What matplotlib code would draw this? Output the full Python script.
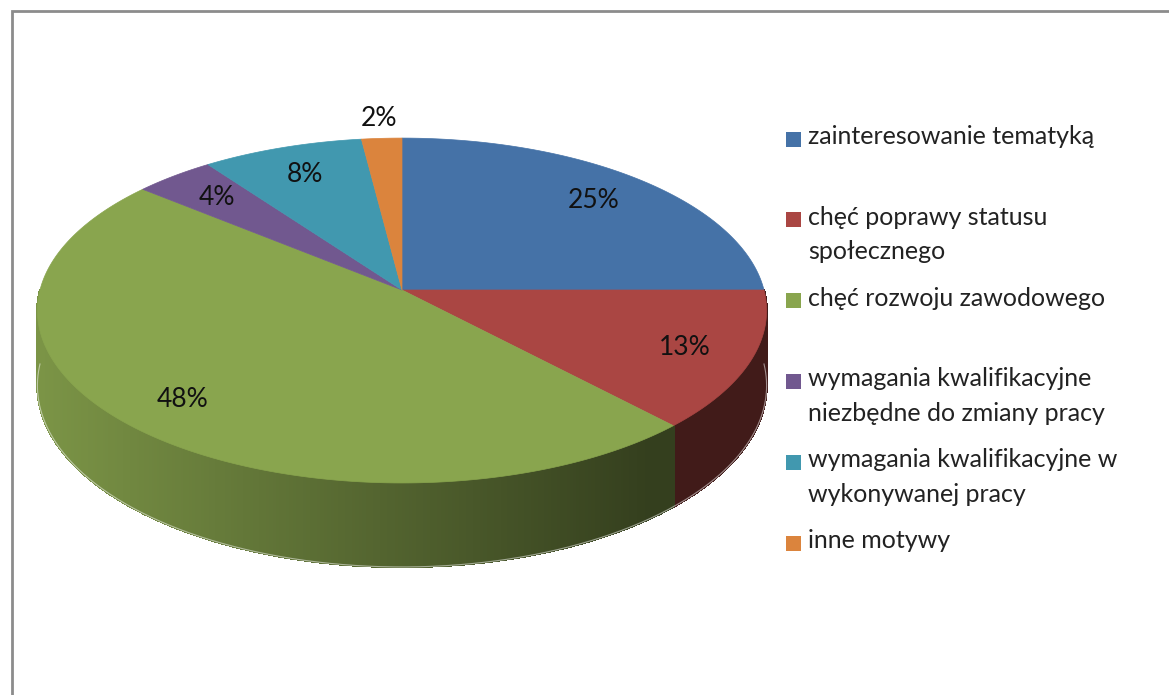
import numpy as np
import matplotlib
matplotlib.use("Agg")
import matplotlib.pyplot as plt
from matplotlib.collections import PolyCollection
from matplotlib.colors import to_rgb

# data
labels = ["zainteresowanie tematyką",
          "chęć poprawy statusu\nspołecznego",
          "chęć rozwoju zawodowego",
          "wymagania kwalifikacyjne\nniezbędne do zmiany pracy",
          "wymagania kwalifikacyjne w\nwykonywanej pracy",
          "inne motywy"]
values = [25, 13, 48, 4, 8, 2]
colors = ["#4572A7", "#AA4643", "#89A54E", "#71588F", "#4198AF", "#DB843D"]

plt.rcParams['font.family'] = ['Lato', 'DejaVu Sans']

W, H = 1169, 695
fig = plt.figure(figsize=(W / 100, H / 100), dpi=100)
ax = fig.add_axes([0, 0, 1, 1])
ax.set_xlim(0, W)
ax.set_ylim(H, 0)
ax.axis("off")

# frame (cut off on right / bottom like the screenshot)
ax.plot([12, 12, W + 5], [H + 5, 11, 11], color="#8c8c8c", lw=2, solid_joinstyle="miter")

# 3d pie geometry (pixel space)
cx, cy = 402, 290
R, Ry = 362, 170
persp = 0.119
depth = 74


def proj(t):
    u, v = np.sin(t), np.cos(t)
    s = 1.0 / (1.0 + persp * v)
    return cx + R * u * s, cy - Ry * v * s, s


def shade(x):
    # side gets darker from left to right
    return np.clip(0.9 - 0.00085 * (x - 37), 0.38, 1.0)


fracs = np.array(values) / np.sum(values)
bounds = np.concatenate([[0], np.cumsum(fracs)]) * 2 * np.pi

# sides (front half only)
polys, fcs = [], []
for i in range(len(values)):
    a0 = max(bounds[i], np.pi / 2)
    a1 = min(bounds[i + 1], 3 * np.pi / 2)
    if a1 <= a0:
        continue
    ts = np.linspace(a0, a1, int(np.degrees(a1 - a0) * 2) + 2)
    base = np.array(to_rgb(colors[i]))
    for ta, tb in zip(ts[:-1], ts[1:]):
        xa, ya, sa = proj(ta)
        xb, yb, sb = proj(tb)
        polys.append([(xa, ya), (xb, yb), (xb, yb + depth * sb), (xa, ya + depth * sa)])
        fcs.append(base * shade((xa + xb) / 2))
ax.add_collection(PolyCollection(polys, facecolors=fcs, edgecolors=fcs, linewidths=1.0,
                                 antialiased=False, zorder=1))
# soften the bottom edge
tb_ = np.linspace(np.pi / 2, 3 * np.pi / 2, 400)
xb_, yb_, sb_ = proj(tb_)
ax.plot(xb_, yb_ + depth * sb_, color="white", lw=0.8, zorder=1.5, alpha=0.5)

# tops
for i in range(len(values)):
    ts = np.linspace(bounds[i], bounds[i + 1], max(int(np.degrees(bounds[i + 1] - bounds[i]) * 2), 4))
    xs, ys, _ = proj(ts)
    pts = [(cx, cy)] + list(zip(xs, ys))
    ax.add_patch(plt.Polygon(pts, closed=True, facecolor=colors[i], edgecolor=colors[i],
                             lw=0.5, zorder=2))

# data labels
for i, v in enumerate(values):
    mid = (bounds[i] + bounds[i + 1]) / 2
    u, w = np.sin(mid), np.cos(mid)
    s = 1.0 / (1.0 + persp * w)
    f = 1.13 if fracs[i] < 0.03 else 0.81
    ax.text(cx + R * u * s * f, cy - Ry * w * s * f, f"{v}%", fontsize=19,
            ha="center", va="center", color="#111111", zorder=3)

# legend
for i, lab in enumerate(labels):
    y = 139 + i * 80.8
    ax.add_patch(plt.Rectangle((786, y - 7.5), 15, 15, facecolor=colors[i], edgecolor="none"))
    ax.text(808, y - 14, lab, fontsize=18, ha="left", va="top", color="#222222",
            linespacing=1.6)

fig.savefig("out.png", dpi=100)
